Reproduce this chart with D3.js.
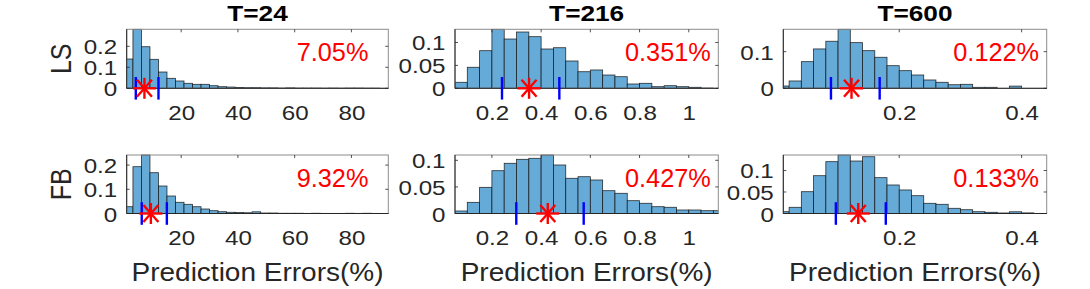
<!DOCTYPE html>
<html>
<head>
<meta charset="utf-8">
<script src="https://cdn.jsdelivr.net/npm/d3@7"></script>
<style>
  body { margin: 0; background: #fff; }
  text { font-family: "Liberation Sans", Arial, Helvetica, sans-serif; }
</style>
</head>
<body>
<div id="chart"></div>
<script>
// Column titles and row names
const titles = ["T=24", "T=216", "T=600"];
const rowNames = ["LS", "FB"];
const xLabel = "Prediction Errors(%)";

// Histogram binning per column: first bin edge, bin width, x limits, x ticks
const binStart = [0, 0.05, 0];
const binWidth = [3, 0.05, 0.02];
const xLimits = [[0.8, 93], [0.05, 1.12], [0.0105, 0.441]];
const xTicks = [[20, 40, 60, 80], [0.2, 0.4, 0.6, 0.8, 1], [0.2, 0.4]];

// y ticks for each panel (LS row first, then FB row)
const yTicks = [
    [0, 0.1, 0.2], [0, 0.05, 0.1], [0, 0.1],
    [0, 0.1, 0.2], [0, 0.05, 0.1], [0, 0.05, 0.1]
];

// Bin heights (probability)
const lsT24 = [0.1395, 0.281, 0.198, 0.138, 0.0776, 0.0476, 0.0348, 0.0238, 0.019, 0.019,
    0.0124, 0.0076, 0.006, 0.004, 0.003, 0.003, 0.002, 0.002, 0.001, 0.002,
    0.001, 0.001, 0.001, 0.0005, 0.001, 0.0005, 0.001, 0.001, 0.0005, 0.0005, 0];
const lsT216 = [0.0131, 0.0459, 0.0821, 0.1288, 0.1076, 0.1229, 0.1127, 0.0858, 0.0886, 0.0596,
    0.0362, 0.040, 0.029, 0.0253, 0.0094, 0.0109, 0.0035, 0.0057, 0.0035, 0.0022, 0.0005, 0];
const lsT600 = [0.0063, 0.020, 0.0727, 0.1074, 0.1284, 0.161, 0.1246, 0.1027, 0.0847, 0.0617,
    0.0481, 0.0363, 0.0227, 0.0164, 0.0098, 0.0109, 0.0027, 0.0027, 0, 0.006, 0];
const fbT24 = [0.0281, 0.1934, 0.2417, 0.1686, 0.1136, 0.0723, 0.0463, 0.038, 0.028, 0.0186,
    0.0116, 0.0074, 0.005, 0.004, 0.003, 0.007, 0.002, 0.002, 0.001, 0.001,
    0.001, 0.0005, 0.001, 0.0005, 0.0005, 0.0005, 0.001, 0.0005, 0.001, 0.0005, 0];
const fbT216 = [0.0047, 0.021, 0.0492, 0.0805, 0.0944, 0.1019, 0.1038, 0.110, 0.0912, 0.0662,
    0.0692, 0.063, 0.0429, 0.038, 0.0241, 0.0192, 0.0128, 0.0117, 0.0066, 0.0066, 0.0053, 0.0053];
const fbT600 = [0.0042, 0.0144, 0.0507, 0.0879, 0.1205, 0.136, 0.122, 0.132, 0.0833, 0.0663,
    0.0547, 0.0414, 0.0237, 0.0214, 0.0121, 0.0088, 0.0042, 0.0028, 0.0012, 0.004, 0.0014];

// Blue markers (lower / upper) and red star (mean error) per panel
const lowerMark = [4.0, 0.241, 0.0884, 6.1, 0.299, 0.0964];
const upperMark = [12.0, 0.474, 0.168, 14.95, 0.573, 0.178];
const meanError = [7.05, 0.351, 0.122, 9.32, 0.427, 0.133];
const meanLabels = ["7.05%", "0.351%", "0.122%", "9.32%", "0.427%", "0.133%"];

const panels = [lsT24, lsT216, lsT600, fbT24, fbT216, fbT600];

// Layout of the axes boxes
const colLeft = [126.7, 455, 783.3];
const colWidth = [261.6, 263.3, 263.4];
const rowTop = [29.3, 155];
const rowHeight = [59, 58.5];

const barFill = "rgb(102,170,215)";
const axisColor = "#262626";
const stretch = 1.15;

const svg = d3.select("#chart").append("svg")
    .attr("width", 1090)
    .attr("height", 289);

// Text helper: MATLAB text in the picture is a bit wider than Liberation Sans
function addText(parent, x, y, str, size, sx, anchor) {
    return parent.append("text")
        .attr("transform", "translate(" + x + "," + y + ") scale(" + sx + ",1)")
        .attr("text-anchor", anchor)
        .style("font-size", size + "px")
        .text(str);
}

function drawPanel(heights, i) {
    const r = Math.floor(i / 3), c = i % 3;
    const left = colLeft[c], top = rowTop[r], w = colWidth[c], h = rowHeight[r];
    const bottom = top + h, right = left + w;

    const x = d3.scaleLinear().domain(xLimits[c]).range([left, right]);
    const y = d3.scaleLinear().domain([0, d3.max(heights)]).range([bottom, top]);

    const g = svg.append("g");

    // clip for the bars
    const clipId = "clip" + i;
    svg.append("clipPath").attr("id", clipId)
        .append("rect")
        .attr("x", left).attr("y", top - 1)
        .attr("width", w).attr("height", h + 1);

    // bins
    const bins = heights.map((v, k) => ({
        x0: binStart[c] + k * binWidth[c],
        x1: binStart[c] + (k + 1) * binWidth[c],
        v: v
    })).filter(d => d.v > 0);

    g.append("g")
        .attr("clip-path", "url(#" + clipId + ")")
        .selectAll("rect")
        .data(bins)
        .join("rect")
        .attr("x", d => x(d.x0))
        .attr("y", d => y(d.v))
        .attr("width", d => x(d.x1) - x(d.x0))
        .attr("height", d => y(0) - y(d.v))
        .attr("fill", barFill)
        .attr("stroke", "#111")
        .attr("stroke-opacity", 0.85)
        .attr("stroke-width", 0.8);

    // axes box
    g.append("rect")
        .attr("x", left).attr("y", top)
        .attr("width", w).attr("height", h)
        .attr("fill", "none")
        .attr("stroke", "#8c8c8c")
        .attr("stroke-width", 1);
    g.append("path")
        .attr("d", "M" + left + "," + top + "V" + bottom + "H" + right)
        .attr("fill", "none")
        .attr("stroke", axisColor)
        .attr("stroke-width", 1);

    // inner tick marks
    const tickLen = 3;
    g.selectAll(".xt").data(xTicks[c]).join("line")
        .attr("x1", d => x(d)).attr("x2", d => x(d))
        .attr("y1", top).attr("y2", top + tickLen)
        .attr("stroke", axisColor).attr("stroke-width", 0.8);
    g.selectAll(".yl").data(yTicks[i]).join("line")
        .attr("x1", left).attr("x2", left + tickLen)
        .attr("y1", d => y(d)).attr("y2", d => y(d))
        .attr("stroke", axisColor).attr("stroke-width", 0.8);
    g.selectAll(".yr").data(yTicks[i]).join("line")
        .attr("x1", right).attr("x2", right - tickLen)
        .attr("y1", d => y(d)).attr("y2", d => y(d))
        .attr("stroke", axisColor).attr("stroke-width", 0.8);

    // x tick labels
    const xAxis = g.append("g")
        .attr("transform", "translate(0," + bottom + ")")
        .call(d3.axisBottom(x).tickValues(xTicks[c]).tickSize(0).tickFormat(d3.format("~g")));
    xAxis.select(".domain").remove();
    xAxis.selectAll("text")
        .attr("y", null).attr("dy", null)
        .attr("transform", "translate(0,31.5) scale(" + stretch + ",1)")
        .attr("fill", axisColor)
        .style("font-size", "21px");

    // y tick labels
    const yAxis = g.append("g")
        .attr("transform", "translate(" + left + ",0)")
        .call(d3.axisLeft(y).tickValues(yTicks[i]).tickSize(0).tickFormat(d3.format("~g")));
    yAxis.select(".domain").remove();
    yAxis.selectAll("text")
        .attr("x", null).attr("dy", null)
        .attr("transform", "translate(-9.5,7.5) scale(" + stretch + ",1)")
        .attr("fill", axisColor)
        .style("font-size", "21px");

    // blue markers
    [lowerMark[i], upperMark[i]].forEach(v => {
        g.append("line")
            .attr("x1", x(v)).attr("x2", x(v))
            .attr("y1", y(0) - 11.3).attr("y2", y(0) + 11.3)
            .attr("stroke", "#0000ff")
            .attr("stroke-width", 2.4);
    });

    // red asterisk at the mean error
    const sx = x(meanError[i]), sy = y(0);
    const arms = [[-11.5, 0, 11.5, 0], [0, -10.5, 0, 10.5], [-7.5, -8.5, 7.5, 8.5], [-7.5, 8.5, 7.5, -8.5]];
    g.append("g").selectAll("line").data(arms).join("line")
        .attr("x1", d => sx + d[0]).attr("y1", d => sy + d[1])
        .attr("x2", d => sx + d[2]).attr("y2", d => sy + d[3])
        .attr("stroke", "#ff0000")
        .attr("stroke-width", 2.4);

    // red value label
    addText(g, left + 170, top + 31.5, meanLabels[i], 25.3, 1, "start")
        .attr("fill", "#ff0000");

    // column title on top row, x label on bottom row
    if (r === 0) {
        addText(g, left + w / 2, 21, titles[c], 21.5, 1.22, "middle")
            .style("font-weight", "bold")
            .attr("fill", "#000");
    } else {
        addText(g, left + w / 2, 280.7, xLabel, 25, 1.12, "middle")
            .attr("fill", axisColor);
    }

    // row name on the left column
    if (c === 0) {
        svg.append("text")
            .attr("transform", "translate(70.8," + (top + h / 2) + ") scale(" + stretch + ",1) rotate(-90)")
            .attr("text-anchor", "middle")
            .style("font-size", "25px")
            .attr("fill", axisColor)
            .text(rowNames[r]);
    }
}

panels.forEach(drawPanel);
</script>
</body>
</html>
